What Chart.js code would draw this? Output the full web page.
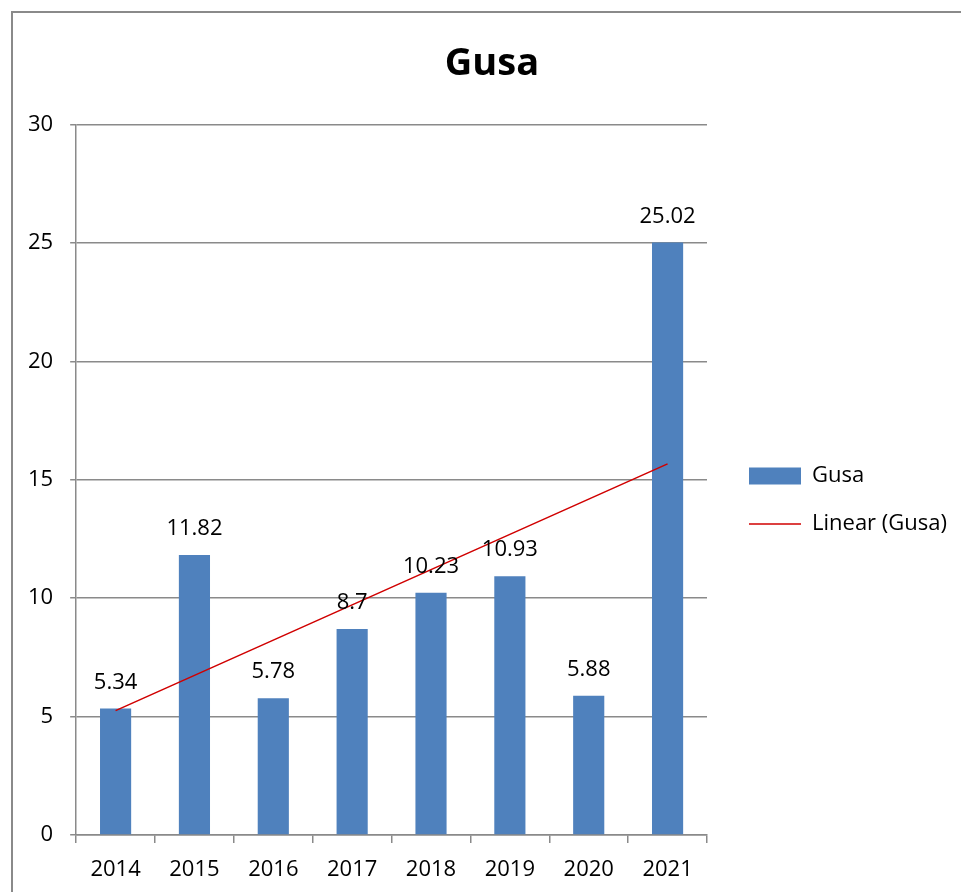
<!DOCTYPE html>
<html><head><meta charset="utf-8">
<script src="https://cdn.jsdelivr.net/npm/chart.js@4.4.0/dist/chart.umd.min.js"></script>
<style>html,body{margin:0;padding:0;background:#fff;overflow:hidden}#wrap{position:absolute;left:0;top:0;width:961px;height:892px}</style>
</head><body><div id="wrap"><canvas id="c" width="961" height="892"></canvas></div>
<script>
const years = ['2014','2015','2016','2017','2018','2019','2020','2021'];
const gusaValues = [5.34, 11.82, 5.78, 8.7, 10.23, 10.93, 5.88, 25.02];
const valueLabels = ['5.34','11.82','5.78','8.7','10.23','10.93','5.88','25.02'];
const seriesName = 'Gusa';
const trendName = 'Linear (Gusa)';
const chartTitle = 'Gusa';

// least-squares linear trendline fitted to the series (like a spreadsheet "Linear" trendline)
function linearTrend(vals){
  const n = vals.length;
  const mx = (n - 1) / 2;
  const my = vals.reduce((a,b)=>a+b,0) / n;
  let sxy = 0, sxx = 0;
  vals.forEach((v,i)=>{ sxy += (i-mx)*(v-my); sxx += (i-mx)*(i-mx); });
  const slope = sxy / sxx, icpt = my - slope*mx;
  return vals.map((v,i)=> icpt + slope*i);
}
const trendValues = linearTrend(gusaValues);

const FONT = "'Open Sans', 'Noto Sans', sans-serif";
const GRID = '#8a8a8a';

const framePlugin = {
  id:'frame',
  beforeDraw(chart){
    const ctx = chart.ctx; ctx.save();
    ctx.strokeStyle = '#8a8a8a'; ctx.lineWidth = 2;
    ctx.beginPath(); ctx.moveTo(12, 2000); ctx.lineTo(12, 12); ctx.lineTo(2000, 12); ctx.stroke();
    ctx.restore();
  }
};
const boxShift = {
  id:'boxShift',
  afterLayout(chart){
    const lg = chart.legend;
    if (lg) { const dx = 16, dy = 54; lg.left += dx; lg.right += dx; lg.top += dy; lg.bottom += dy; }
    const tb = chart.titleBlock;
    if (tb) { tb.left += 17; tb.right += 17; }
  }
};
const labelPlugin = {
  id:'valueLabels',
  afterDatasetsDraw(chart){
    const ctx = chart.ctx;
    const meta = chart.getDatasetMeta(0);
    ctx.save();
    ctx.font = '22px ' + FONT; ctx.fillStyle = '#000';
    ctx.textAlign = 'center'; ctx.textBaseline = 'middle';
    meta.data.forEach((el,i)=>{ ctx.fillText(valueLabels[i], el.x, el.y - 26); });
    ctx.restore();
  }
};

new Chart(document.getElementById('c'), {
  data: {
    labels: years,
    datasets: [
      { type:'bar', label: seriesName, data: gusaValues, backgroundColor:'#4F81BD', borderWidth:0,
        categoryPercentage:1, barPercentage:0.395, order:1 },
      { type:'line', label: trendName, data: trendValues, borderColor:'#D00000', borderWidth:1.6,
        pointRadius:0, fill:false, tension:0, order:0 }
    ]
  },
  options: {
    responsive:false, animation:false, devicePixelRatio:1,
    layout:{ padding:{ left:11, right:22, top:0, bottom:0 } },
    plugins:{
      tooltip:{enabled:false},
      title:{ display:true, text: chartTitle, color:'#000', font:{family:FONT, size:38, weight:'bold'},
        padding:{top:41, bottom:38} },
      legend:{ position:'right',
        labels:{ color:'#000', font:{family:FONT, size:22}, usePointStyle:true, pointStyleWidth:52, boxHeight:17, padding:26,
          sort:(a,b)=>a.datasetIndex-b.datasetIndex,
          generateLabels(chart){
            const items = Chart.defaults.plugins.legend.labels.generateLabels(chart);
            items.forEach(it=>{
              const ds = chart.data.datasets[it.datasetIndex];
              if (ds.type === 'line'){ it.pointStyle='line'; it.lineWidth=1.6; it.strokeStyle=ds.borderColor; it.fillStyle=ds.borderColor; }
              else { it.pointStyle='rect'; it.lineWidth=0; it.fillStyle=ds.backgroundColor; }
            });
            return items;
          }
        }
      }
    },
    scales:{
      x:{ grid:{ drawOnChartArea:false, drawTicks:true, tickLength:8, color:GRID, lineWidth:1.5, offset:true },
          border:{ color:GRID, width:1.5 },
          ticks:{ color:'#000', font:{family:FONT, size:22}, padding:14, maxRotation:0 },
          afterFit(s){ s.height = 57; } },
      y:{ min:0, max:30, ticks:{ stepSize:5, color:'#000', font:{family:FONT, size:22}, padding:17 },
          grid:{ color:GRID, lineWidth:1.5, tickLength:6 },
          border:{ color:GRID, width:1.5 } }
    }
  },
  plugins:[framePlugin, boxShift, labelPlugin]
});
</script></body></html>
